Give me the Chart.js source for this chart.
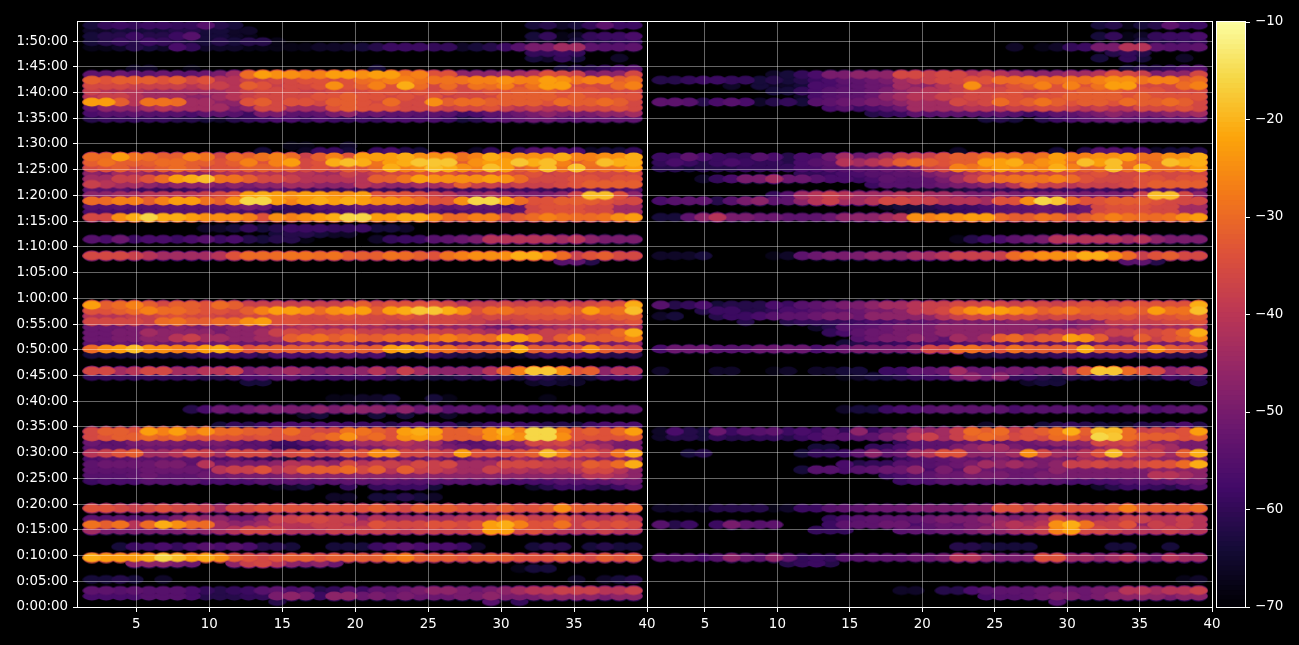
<!DOCTYPE html>
<html lang="en">
<head>
<meta charset="utf-8"/>
<title>Level by time and band</title>
<script src="https://cdn.jsdelivr.net/npm/chart.js"></script>
<style>
    html, body { margin: 0; background: #000; overflow: hidden; }
    #wrap { position: relative; width: 1299px; height: 645px; }
    #mapChart { position: absolute; left: 0; top: 0; }
    #barChart { position: absolute; left: 1212px; top: 0; }
  </style>
</head>
<body>
<div id="wrap">
<canvas height="645" id="mapChart" width="1299"></canvas>
<canvas height="645" id="barChart" width="87"></canvas>
</div>
<script>
    // one letter per cell, "." = nothing plotted; levelDb gives the dB value of each letter
    const levelCodes = 'abcdefghijklmnopqrstuvwxyzABC';
    const levelDb = [-70, -69, -68, -66, -64, -62, -60, -59, -57, -55, -54, -52, -50, -47, -44, -41,
      -38, -36, -34, -32, -30, -29, -27, -25, -23, -21, -19, -18, -16];

    // band position of each of the 39 columns
    const columnX = [1.95, 2.93, 3.90, 4.88, 5.86, 6.84, 7.81, 8.79, 9.77, 10.74, 11.72, 12.70, 13.67,
      14.65, 15.63, 16.61, 17.58, 18.56, 19.54, 20.51, 21.49, 22.47, 23.44, 24.42, 25.40, 26.38,
      27.35, 28.33, 29.31, 30.28, 31.26, 32.24, 33.21, 34.19, 35.17, 36.15, 37.12, 38.10, 39.08];

    // start of each row in seconds, first row at the bottom
    const rowSeconds = [0, 64, 128, 192, 256, 320, 384, 448, 512, 576, 640, 704, 768, 832, 896, 960,
      1024, 1088, 1152, 1216, 1280, 1344, 1408, 1472, 1536, 1600, 1664, 1728, 1792, 1856, 1920, 1984,
      2048, 2112, 2176, 2240, 2304, 2368, 2432, 2496, 2560, 2624, 2688, 2752, 2816, 2880, 2944, 3008,
      3072, 3136, 3200, 3264, 3328, 3392, 3456, 3520, 3584, 3648, 3712, 3776, 3840, 3904, 3968, 4032,
      4096, 4160, 4224, 4288, 4352, 4416, 4480, 4544, 4608, 4672, 4736, 4800, 4864, 4928, 4992, 5056,
      5120, 5184, 5248, 5312, 5376, 5440, 5504, 5568, 5632, 5696, 5760, 5824, 5888, 5952, 6016, 6080,
      6144, 6208, 6272, 6336, 6400, 6464, 6528, 6592, 6656, 6720, 6784];

    const timeTicks = [0, 300, 600, 900, 1200, 1500, 1800, 2100, 2400, 2700, 3000, 3300, 3600,
      3900, 4200, 4500, 4800, 5100, 5400, 5700, 6000, 6300, 6600];

    const leftRows = [
      '',
      '..... ..... ...f. ..... ..... ...j. g.... ....',
      'iiiij jjiff fggmn mhnnl mlmll lmmnm mmnnn nmnn',
      'kkjkj jjigf ghjki jfgjh kklmn nmlmn oppqq qppq',
      '',
      'eefe. d.... ..... ..... ..... ..... ....d .def',
      '',
      '..... ..... ..... ..... ..... ..... cee.. ....',
      '...nn nml.. nqrpn mnl.. ..... ..... ..... ....',
      'zyyyz CAyzx tsrst tsttt tvwtt tsttt sssts rtst',
      '',
      '..ehh igiji jiffe ..eee hijii ihd.. .eff. efee',
      '',
      '',
      'ommmm mmnno prrqp ppqqq qqpqq qqryy rsqpp pqpp',
      'vtvpu zxuuo nnopp pqqpp srrrs srsyz wssvq srsr',
      'kjkjk kmonn llnqq rrqqn poooo opppt sqqsq ppqp',
      '',
      'ssrqr srrqo rrsss sssss tsrtt tssst sstxt tttu',
      '',
      '..... ..... ..... ..dd. eefed ..... ..... ....',
      '',
      '..... ..... ...cd e..g. ghhhe ..... .dfhh gfhj',
      'hiiij jjjii iijjj jjjkk kkjjj jjjji iiijj jkll',
      'jjjkl kkkll mmmmn nnnnn nnnnn nnnnn nnnnn ppon',
      'kkkkl lllkp qqspq tttur tptqq pooqp popop rrpn',
      'kllll mmkpl mmmnp oonrp qqprq rooor rrqqq tsuz',
      'ijjkj kkkki jhhfe ighjj kllkm kkmml onnoo nnnn',
      'pqsto oprqo rrrpr sqqts xxrrr qysss stAws sqvz',
      'kkkll lllkl kkjgg hiklm mnoon mlkkl mnppo pomm',
      'ljkmm mmlmm ljkhh jkmno oppoo ljjln nrqrp nnmm',
      'rsttu tusss srsss stuxt usxyx tttxy xCCxs ssst',
      'rttsy wyvxu uttsu srrvv tsyzy ttuxz wCCws tsuy',
      '..... ....e gfhii iiihh hfhih hefhi hgffe hiii',
      '',
      '..... ..... ..... de... e.e.. d.... ..... ....',
      '..... ..fil klmmm mnmnn nmnlm jkkij kiijk ijkk',
      '',
      '..... ..... ..... ..ccd de..e c.... ..c.. ....',
      '',
      '',
      '..... ..... .ee.. ..... ..... ..... .dedd ....',
      'ggggg gggff giijj hhhhh hfeee efegf egfed eghh',
      'rropr roopp qmnno nmnnn pnqon nnnpt wBBxs tnpp',
      '',
      '',
      'eeeee eefgg ghfii hijjh ieeeg feedd dfhgh gfff',
      'uxyAx xwwyz wsttt ttttt tyzxu vsttu zttts xtsr',
      'kklkm lllll lllmm nnmnk kkkll kkkkl klllm mmmn',
      'llmmn npqoo nnoot uvtut tuuuv wuvuy ywqtw tttw',
      'llmmo nnnnm nnoqr qrrsq qqqqq qqpop ppqqr rsuz',
      'lllmm mnmmm nnnoo poooo onnnn nnnll lmnoo oooo',
      'rrrrq uvttu uxyss rrrrr rqqqr rqqpp qqqqq qrrs',
      'pppqq rsrrq qrrss rrssr rrsrr rrqrr rsssr sstt',
      'sstuw uutss rtwyy xuxyy tyzBB zxsuv tttut yvvA',
      'ytuwt rttsu tqqqq qqqrt rssss rpqqr qrqrq rssz',
      '',
      '', '', '', '', '', '',
      '..... ..... ..... ..... ..... ..... ...jk f...',
      'rrrqp oooop suuuv vuvtt tvuts vwxxx zzxuq strr',
      '', '',
      'jilhi ihijh ifeff c.... dghhj klmpp pppop nmmm',
      '..... ..... ...ef fedd. ..... ..... ..... ....',
      '..... ...dd egefh hhggh eed.. ..... ..... ....',
      '',
      'rrxzC zzyxx xwsxw xyzCC yyzzx uuwws tuwvu uvxy',
      'iiiij jjjjj iiheg ghiij jkjkj iijjk krsss rroo',
      'jjkjj kkkkk lmlhg hjjjl lllkl klkki krsss rroo',
      'uuwwt wyyvt xCCyw yzyzy xxwus sxCCy usstt tsrr',
      'nnoop pppqr syzyx yyxxy sssrq pnnon mmmnq AAsn',
      'kjjhh gghjj jkjji hhghg hgghh hhhhh hhggi jjij',
      'qpoon mnnnm nmnno onnnp onnoo ptqqp qqqrs tttt',
      'ooqqs uyzAv vtrrq ppppp ttvyx xxxyx urrrs srss',
      'nmoon nonno ppppp pooqp qrrss sqqrs rsqrr rrrr',
      'rstrs tutrs stttt rsrts uzwxA zxwAy tvAvA uuvy',
      'tvttt uutts twswy rszAz vyzBB Btxyy BzAwt vAzz',
      'uuyvu ttwvr utvwu qtwsy yyzxx xvwzx xxxzw wxxz',
      '..... ..... ..e.. dhhe. hife. ..dg. gjjii deeg',
      '..... ..... ....c c..d. ..... ..... ..... ....',
      '', '', '', '',
      'fgggg gffed fghii gihgh giiii hefij klljj kkkk',
      'ijjkj jjikk jhmmk jkmnk lkkjk jhikk lmnmm mnno',
      'knnno poooo mnrro oosts ssrrr qrrsq pqppr rrsr',
      'yytpv vuoon nstrs srtts rurrx tuutt ttsut tutr',
      'pqqpo oonno pqrrr rssts srsrs qrrrt tttst ssss',
      'qpppo ooooo pqrrr qqrrr ssrsr srrss tttss srrr',
      'rrrqq qqpqq ptsqr rsxst wszur urvuw svyyr rruw',
      'tsttt strsp pqqrr ssrsu vwwvv vvwwx wwyxv wwtu',
      'kklkk lkklm ouyxx wwyyx yyvws snnno opsrq mnnr',
      '...dd ..c.. ..... ..... e.... ..... ...ef fgij',
      '',
      '..... ..... ..... ..... ..... ..... .edge ..d.',
      '..... ..... ..... ..... ..... ..... .gghg ....',
      'ccdfe digdd dcccc cddde fhhhg gdefh jmmoo kjjk',
      'efgfh gfeef effc. ..... ..... ..... .ddce ffgg',
      'effhf fhjee dc... ..... ..... ..... .egcd ghhi',
      'ddeee effee dd... ..... ..... ..... ..... ....',
      'eghgh hggjf e.... ..... ..... ..... .efde gkhh'
    ];

    const rightRows = [
      '',
      '..... ..... ..... ..... ..... ...j. ..... ....',
      '..... ..... ..... ..... ...ij jklmm lmnnn nmnn',
      '..... ..... ..... ..dd. ffijk kklll lmmpp oppq',
      '',
      '..... ..... ..... ..... ..... ..... ..... ..cd',
      '',
      '',
      '..... ....f ghf.. ..... ..... ..... ..... ....',
      'jjjij nlknk ghgjj kkkll mppnm mmsso onopn mpoo',
      '',
      '..... ..... ..... ..... .ffee ee... ..ee. .e..',
      '',
      '',
      '..... ..... .ggg. ..jkk llmnn opqwy rrqpp pqpp',
      'jfh.h mkjk. ..hkk kllik lkmmo popxz vqqsn qpqp',
      '..... ..... ..gij kkkkl mmmnn mnorp oopqq ppqp',
      '',
      'ddddf fffcd hhjkk lllmm mmnns sqsss sstwt tttu',
      '',
      '',
      '',
      '..... ..... ..... ..... ..... ..... .dfhh gfhj',
      '..... ..... ..... ..hii jjjjj jjjji iiijj jkll',
      '..... ..... ..... .hijk llmmm llmmm mmmmm ppon',
      '..... ..... ejjij kllni mjoll lllnm mmmmm nnnn',
      '..... ..... ...if ggjjj klmon onmnq qrqqr ssuz',
      '..... ..... ..... ..gij klkkm kkmml onnoo nnnn',
      '..ef. ..... egghk nklop ssnnn oxroo psAsq qotz',
      '..... ..... .ee.. ggijk kmnoo mlkkl mnppo pomm',
      '..... ..... ..... ..gjk kkllk llmnn nrqrp nnmm',
      'dffeg ffggf hijjj kmnpq oqtut rsruu sCBut ttst',
      'difel hjjkh ihjgn hklon oqutu qstvz tAAuq rqsy',
      '..... ..... ..... ..... ...d. ..efg feddf fgif',
      '',
      '',
      '..... ..... ...de ehiij kkkkk ijjjj jiijk ijkk',
      '',
      '',
      '',
      '',
      '..... ..... ..... ..... ..... .dee. ..... ...f',
      '..... ..... ...cd eefgh hmnln ggfef egfed ehgg',
      'd...d d..cd .ddee .hhkk lolll mlmmp tBBus rnop',
      '',
      '',
      '..... ..... ..... ..... ..eef fffgg hghhf gfff',
      'illlj jjlll liklm mmmnr quvts vtttt zttts xtsr',
      '..... ..... ...ef gghhi iijjj kkkkl klllm mmmn',
      '..... ..... ....j lmmnm konot ustty xtoot qstw',
      '..... ..... ..gik llmmm nnnnn nnopp ppqqr rsuz',
      '..... ..... .dfjj klmmm nnnnn nnmmm noooo oooo',
      '..... .f..f ggggh iijjk lmmmm nnnnm nnqqq qrrs',
      'de..f hhijk klmml nnnnn pqrrr rrqrr rsssr sstt',
      '...fh hffgi ijkkl mmnpq ruxyy xwtuv tttut yvvA',
      'jfgie fffih jklmm noopq qrrrr qrrqr ssrss sssz',
      '',
      '', '', '', '', '', '',
      '..... ..... ..... ..... ..... ..... ...jk f...',
      'ddde. ...cd klmmm nnnoo pqqqq uwxxx zzxuq strr',
      '', '',
      '..... ..... ..... ..... .cfhi klmpp pppop nmmm',
      '',
      '',
      '',
      'eeknp mmllk kklnn nopxw xxyyu ttvus tuwvu uvxy',
      '..... ..... ..... ..dee fghij kklkk lrsss rroo',
      '..... ..... ..... .deef ghhij kklkk lrsss rroo',
      'ijkkf jmnkk npqoo prrqq pppos sxCBu ssttt srrr',
      '..... ...gj opqpo ooppo onmmn mmmmm mmmmq AArn',
      '..... ..... ..... ..ddd eefgg ghhhh hhggi jjij',
      '..... ..... ..... hjjjk lmmnn ptqqp qqqrs tttt',
      '...dg immol ljiih ikjjk moqtu vvvwu srrrs srss',
      '..... ..... gghii jjkkm nnpqq qqqrr rsqrr rrrr',
      'ffeff fgggg iijjk kllmq rwvwy xxwzw tuAuz uuvy',
      'gihfh ihggf ijkpo pqtut sttyy zuxyu AyAvt uAzz',
      'hhkih ggjif iilol moqqq sttuv vuvyw wxxyv vxxz',
      '..... ..... ..... ..... .d... ...e. fjjhi deef',
      '',
      '', '', '', '',
      '..... ..... ..... ..... ...ef e.fhi jklkj jkkk',
      '..... ..... ..... fghkj kkkjk jhikk lmnmm mnno',
      '..... ..... ..ijh ijloo ooppp qqrrq pqppr rrsr',
      'kkjfi jidfg ejkll mmnoo orqru stvts ttsut tutr',
      '..... ..... dijkk lnopp qqrrs srsst tttst ssss',
      '..... ...ee gijkk lmnop pqrrr srrss tttss srrr',
      '..... d.edd eiijk llonn pqxqq stwsw svyyr rruw',
      'ffghh ggefe fhikk lmopq rrssu uvuuv vwxxv wwtu',
      '..... ...de gimmn nnrrq rrpqp onnno opsrq mnnr',
      '..... ..... ..... ..... ..... ..... ...ef fgij',
      '',
      '..... ..... ..... ..... ..... ..... .e.ge ..d.',
      '..... ..... ..... ..... ..... ..... ..fgf ....',
      '..... ..... ..... ..... ..... d.cdg hmmpp kjjk',
      '..... ..... ..... ..... ..... ..... ...ce ffgg',
      '..... ..... ..... ..... ..... ..... .egcd ghhi',
      '',
      '..... ..... ..... ..... ..... ..... .efce fkhh'
    ];

    const colorTicks = [-70, -60, -50, -40, -30, -20, -10];

    // inferno colour stops, evenly spaced from -70 to -10 dB
    const colorStops = ['#000004', '#160b39', '#420a68', '#6a176e', '#932667', '#bc3754',
      '#dd513a', '#f37819', '#fca50a', '#f6d746', '#fcffa4'];

    const textColor = '#ffffff';
    const gridColor = 'rgba(255,255,255,0.4)';
    const tickFont = { family: 'DejaVu Sans', size: 13.4 };

    function hexToRgb(hex) {
      return [1, 3, 5].map(i => parseInt(hex.slice(i, i + 2), 16));
    }

    function colorFor(db) {
      const t = Math.min(Math.max((db + 70) / 60, 0), 1) * (colorStops.length - 1);
      const i = Math.min(Math.floor(t), colorStops.length - 2);
      const a = hexToRgb(colorStops[i]);
      const b = hexToRgb(colorStops[i + 1]);
      const c = a.map((v, n) => Math.round(v + (b[n] - v) * (t - i)));
      return `rgb(${c[0]},${c[1]},${c[2]})`;
    }

    // ellipse image used as a point style
    function makeSprite(db, ry) {
      const c = document.createElement('canvas');
      c.width = 19;
      c.height = 12;
      const g = c.getContext('2d');
      g.fillStyle = colorFor(db);
      g.beginPath();
      g.ellipse(9.5, 6, 9.2, ry, 0, 0, Math.PI * 2);
      g.fill();
      return c;
    }
    const cores = {};
    const rims = {};
    levelDb.forEach(db => {
      cores[db] = makeSprite(db, 4.4);
      rims[db] = makeSprite(db - 14, 5.6);   // darker halo that shows only at the edge of a band
    });

    // quiet cells first so the loud ones stay whole on top
    function cellsFrom(rows) {
      const cells = [];
      rows.forEach((row, k) => {
        row.replace(/ /g, '').split('').forEach((code, i) => {
          if (code === '.') return;
          cells.push({ x: columnX[i], y: rowSeconds[k], db: levelDb[levelCodes.indexOf(code)] });
        });
      });
      return cells.sort((a, b) => a.db - b.db);
    }

    function clockLabel(value) {
      const h = Math.floor(value / 3600);
      const m = Math.floor(value / 60) % 60;
      return `${h}:${String(m).padStart(2, '0')}:00`;
    }

    const framePlugin = {
      id: 'frame',
      afterDraw(chart) {
        const a = chart.chartArea;
        const g = chart.ctx;
        g.save();
        g.strokeStyle = textColor;
        g.lineWidth = 1;
        g.strokeRect(a.left - 0.5, a.top - 0.5, a.right - a.left + 1, a.bottom - a.top + 1);
        g.restore();
      }
    };

    function bandAxis(weight) {
      return {
        type: 'linear',
        position: 'bottom',
        stack: 'bands',
        stackWeight: weight,
        min: 1,
        max: 40,
        afterFit(scale) { scale.height = 38; },
        border: { display: false },
        grid: {
          z: 1,
          tickLength: 5,
          tickColor: textColor,
          color: ctx => (ctx.tick && ctx.tick.value === 40 ? textColor : gridColor)
        },
        ticks: {
          stepSize: 5,
          includeBounds: false,
          autoSkip: false,
          maxRotation: 0,
          padding: 4,
          color: textColor,
          font: tickFont
        }
      };
    }

    function panelDatasets(rows, axisId) {
      const cells = cellsFrom(rows);
      const common = { data: cells, xAxisID: axisId, yAxisID: 'y', pointRadius: 5, pointBorderWidth: 0 };
      return [
        { ...common, pointStyle: ctx => (ctx.raw ? rims[ctx.raw.db] : 'circle'), order: 2 },
        { ...common, pointStyle: ctx => (ctx.raw ? cores[ctx.raw.db] : 'circle'), order: 1 }
      ];
    }

    new Chart(document.getElementById('mapChart').getContext('2d'), {
      type: 'scatter',
      data: {
        datasets: [...panelDatasets(leftRows, 'xLeft'), ...panelDatasets(rightRows, 'xRight')]
      },
      options: {
        responsive: false,
        animation: false,
        events: [],
        layout: { padding: { left: 0, top: 22, right: 87, bottom: 0 } },
        plugins: { legend: { display: false }, tooltip: { enabled: false } },
        scales: {
          xLeft: bandAxis(569),
          xRight: bandAxis(565),
          y: {
            type: 'linear',
            position: 'left',
            min: 0,
            max: 6822,
            afterFit(scale) { scale.width = 78; },
            afterBuildTicks(scale) { scale.ticks = timeTicks.map(value => ({ value })); },
            border: { display: false },
            grid: { z: 1, tickLength: 5, tickColor: textColor, color: gridColor },
            ticks: {
              autoSkip: false,
              padding: 5,
              color: textColor,
              font: tickFont,
              callback: clockLabel
            }
          }
        }
      },
      plugins: [framePlugin]
    });

    // colour key: a stack of thin floating bars on a dB axis
    const barSegments = [];
    for (let db = -70; db < -10; db += 0.5) barSegments.push(db);

    new Chart(document.getElementById('barChart').getContext('2d'), {
      type: 'bar',
      data: {
        labels: ['dB'],
        datasets: barSegments.map(db => ({
          data: [[db, db + 0.7]],
          backgroundColor: colorFor(db + 0.25),
          grouped: false,
          barPercentage: 1,
          categoryPercentage: 1
        }))
      },
      options: {
        responsive: false,
        animation: false,
        events: [],
        layout: { padding: { left: 5, top: 22, right: 0, bottom: 38 } },
        plugins: { legend: { display: false }, tooltip: { enabled: false } },
        scales: {
          x: { display: false },
          y: {
            position: 'right',
            min: -70,
            max: -10,
            afterFit(scale) { scale.width = 54; },
            afterBuildTicks(scale) { scale.ticks = colorTicks.map(value => ({ value })); },
            border: { display: false },
            grid: { drawOnChartArea: false, tickLength: 5, tickColor: textColor },
            ticks: {
              padding: 5,
              color: textColor,
              font: tickFont,
              callback: value => '\u2212' + Math.abs(value)
            }
          }
        }
      },
      plugins: [framePlugin]
    });
  </script>
</body>
</html>
